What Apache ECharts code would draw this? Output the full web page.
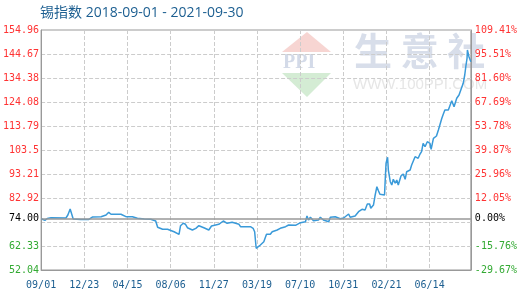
<!DOCTYPE html>
<html>
<head>
<meta charset="utf-8">
<script src="https://cdn.jsdelivr.net/npm/echarts@6/dist/echarts.min.js"></script>
<style>html,body{margin:0;padding:0;background:#fff}#c{width:520px;height:300px}</style>
</head>
<body>
<div id="c"></div>
<script>
// ---- data ----
const titleText = '锡指数 2018-09-01 - 2021-09-30';
const startDate = '2018-09-01';
const endDate = '2021-09-30';
const baseValue = 74.00;
const yMin = 52.04, yMax = 154.96, yStep = 10.292;
const leftTicks = [52.04, 62.33, 74.00, 82.92, 93.21, 103.5, 113.79, 124.08, 134.38, 144.67, 154.96];
const leftLabels = ['52.04', '62.33', '74.00', '82.92', '93.21', '103.5', '113.79', '124.08', '134.38', '144.67', '154.96'];
const rightLabels = ['-29.67%', '-15.76%', '0.00%', '12.05%', '25.96%', '39.87%', '53.78%', '67.69%', '81.60%', '95.51%', '109.41%'];
const xLabelEvery = 113; // days between x labels
// days since 2018-09-01
const dayOffsets = [0, 4, 10, 16, 26, 65, 70, 76, 80, 84, 104, 117, 120, 125, 135, 157, 170, 177, 183, 209, 214, 222, 239, 252, 270, 287, 300, 305, 318, 331,
  335, 348, 361, 365, 372, 378, 383, 396, 405, 413, 426, 439, 446, 465, 477, 487, 500, 518, 522, 548, 555, 559, 563, 566, 574, 583, 590, 600, 605, 618, 626, 640, 648,
  666, 679, 692, 696, 700, 705, 713, 726, 731, 739, 753, 757, 770, 783, 792, 805, 809, 822, 831, 840, 848, 854, 860, 863, 870, 874, 879, 883, 887, 899, 901, 903, 907, 909,
  914, 918, 922, 927, 931, 935, 937, 942, 948, 953, 957, 966, 970, 979, 987, 992, 996, 1000, 1005, 1011, 1018, 1021, 1027, 1035, 1040, 1044, 1049, 1053, 1057, 1066,
  1070, 1075, 1081, 1088, 1094, 1099, 1105, 1109, 1112, 1115, 1116, 1118, 1120, 1125];
const indexValues = [74.00, 73.18, 73.3, 74.12, 74.47, 74.34, 75.63, 78.20, 77.77, 73.91, 73.7, 73.7, 73.18, 73.7, 74.77, 74.85, 75.63, 76.78, 75.93, 75.93, 76.27, 74.9, 74.9, 74.21, 73.91, 73.78, 73.05, 70.35, 69.49, 69.49,
  69.62, 68.46, 67.35, 71.04, 72.07, 71.64, 70.18, 69.19, 69.92, 71.04, 70.18, 69.19, 70.91, 71.64, 73.05, 72.07, 72.50, 71.64, 70.61, 70.61, 69.92, 68.46, 61.35, 60.62, 62.76, 64.18, 67.35, 67.35, 68.46, 69.19, 69.92, 70.61, 71.34,
  71.21, 72.32, 72.75, 75.2, 73.48, 74.64, 73.18, 73.48, 74.64, 73.48, 72.75, 74.64, 74.9, 74.04, 74.34, 76.05, 74.64, 75.2, 77.04, 78.07, 77.77, 80.34, 80.34, 78.5, 79.91, 83.77, 87.76, 86.05, 84.5, 84.2, 91.36, 97.8, 100.37, 94.92,
  89.91, 88.49, 90.93, 89.22, 90.63, 88.49, 88.92, 92.35, 93.21, 90.93, 94.19, 94.92, 97.07, 100.63, 99.94, 101.78, 102.77, 106.37, 104.91, 107.06, 106.37, 103.8, 108.52, 109.5, 112.08, 112.8, 117.09, 118.94, 120.65, 120.65,
  119.92, 124.64, 122.07, 125.67, 127.09, 127.81, 132.1, 135.66, 139.52, 142.82, 146.38, 146.08, 143.51, 141.36];

// ---- build ----
function buildDates(s, e) {
  const out = [];
  let t = Date.parse(s + 'T00:00:00Z');
  const end = Date.parse(e + 'T00:00:00Z');
  while (t <= end) { out.push(new Date(t).toISOString().slice(0, 10)); t += 86400000; }
  return out;
}
const categories = buildDates(startDate, endDate);
const seriesData = dayOffsets.map((d, i) => [categories[d], indexValues[i]]);

function tickIndex(v) {
  let best = 0, bd = Infinity;
  leftTicks.forEach((t, i) => { const d = Math.abs(t - v); if (d < bd) { bd = d; best = i; } });
  return best;
}
function colorFor(v) {
  const k = leftTicks[tickIndex(v)];
  if (Math.abs(k - baseValue) < 0.001) return '#000000';
  return k > baseValue ? '#ff3333' : '#33aa33';
}

const chart = echarts.init(document.getElementById('c'), null, { renderer: 'canvas' });
const labelFont = "'DejaVu Sans Mono', monospace";
chart.setOption({
  animation: false,
  backgroundColor: '#ffffff',
  title: {
    text: titleText, left: 35, top: 1,
    textStyle: { fontSize: 14, fontWeight: 'normal', color: '#1d5f91', fontFamily: "'Open Sans','Noto Sans CJK SC',sans-serif" }
  },
  grid: { left: 40, right: 49, top: 30, bottom: 30, show: true, borderColor: '#999999', borderWidth: 1, backgroundColor: 'transparent' },
  graphic: [
    { type: 'polygon', z: -1, shape: { points: [[307, 32], [331, 52], [282, 52]] }, style: { fill: '#f7d5d2' } },
    { type: 'polygon', z: -1, shape: { points: [[282, 73], [331, 73], [307, 97]] }, style: { fill: '#d4ecd4' } },
    { type: 'text', z: -1, left: 283, top: 53, style: { text: 'PPI', fontSize: 20, fontWeight: 'bold', fontFamily: "'Liberation Serif',serif", fill: '#d3dae8' } },
    { type: 'text', z: -1, left: 354, top: 32, style: { text: '生 意 社', fontSize: 38, fontWeight: 'bold', fontFamily: "'Noto Sans CJK SC'", fill: '#d8deea' } },
    { type: 'text', z: -1, left: 353, top: 77, style: { text: 'WWW.100PPI.COM', fontSize: 15, fontFamily: "'Liberation Sans',sans-serif", fill: '#e6e6e6' } }
  ],
  xAxis: {
    type: 'category',
    data: categories,
    boundaryGap: false,
    axisLine: { show: true, lineStyle: { color: '#999999' } },
    axisTick: { show: false },
    axisLabel: {
      interval: xLabelEvery - 1, margin: 10, fontSize: 10, color: '#1d5f91', fontFamily: labelFont,
      formatter: v => v.slice(5, 7) + '/' + v.slice(8, 10)
    },
    splitLine: { show: true, interval: xLabelEvery - 1, lineStyle: { color: '#cccccc', type: 'dashed' } }
  },
  yAxis: [
    {
      type: 'value', min: yMin, max: yMax, interval: yStep, position: 'left',
      axisLine: { show: true, lineStyle: { color: '#999999' } },
      axisTick: { show: false },
      axisLabel: {
        customValues: leftTicks, margin: 2, fontSize: 10, fontFamily: labelFont,
        formatter: v => leftLabels[tickIndex(v)],
        color: v => colorFor(v)
      },
      splitLine: { show: true, lineStyle: { color: '#cccccc', type: 'dashed' } }
    },
    {
      type: 'value', min: yMin, max: yMax, interval: yStep, position: 'right',
      axisLine: { show: true, lineStyle: { color: '#999999' } },
      axisTick: { show: false },
      axisLabel: {
        customValues: leftTicks, margin: 4, fontSize: 10, fontFamily: labelFont,
        formatter: v => rightLabels[tickIndex(v)],
        color: v => colorFor(v)
      },
      splitLine: { show: false }
    }
  ],
  series: [{
    type: 'line',
    data: seriesData,
    yAxisIndex: 0,
    showSymbol: false,
    symbol: 'none',
    lineStyle: { color: '#3a9ad9', width: 1.5 },
    itemStyle: { color: '#3a9ad9' },
    markLine: {
      silent: true, symbol: 'none', label: { show: false },
      lineStyle: { color: '#999999', type: 'solid', width: 1.5 },
      data: [{ yAxis: baseValue }]
    },
    z: 3
  }]
});
</script>
</body>
</html>
